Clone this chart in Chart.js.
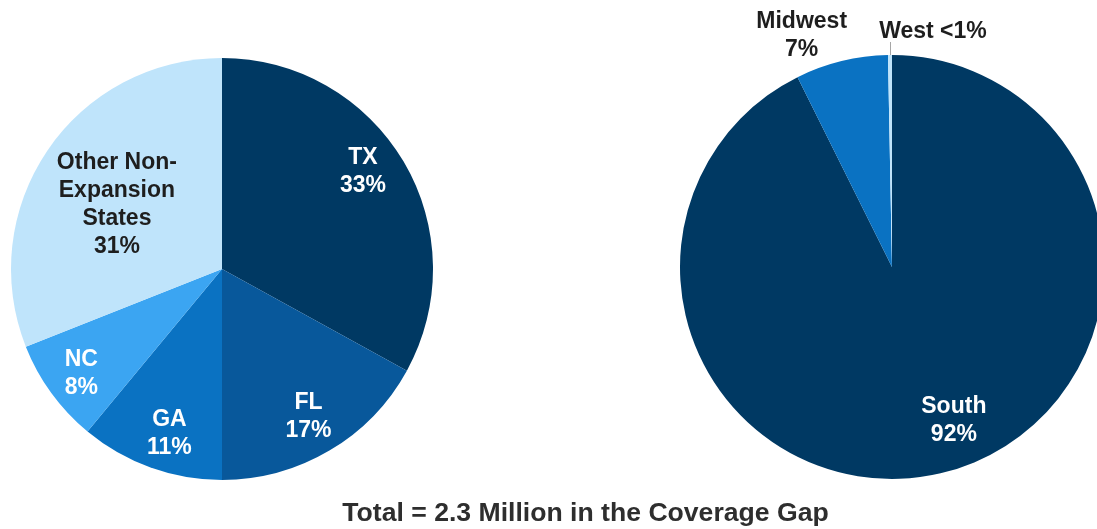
<!DOCTYPE html>
<html>
<head>
<meta charset="utf-8">
<script src="https://cdn.jsdelivr.net/npm/chart.js@4.4.1/dist/chart.umd.min.js"></script>
<style>
  html, body { margin:0; padding:0; background:#fff; width:1097px; height:529px; overflow:hidden; position:relative; }
  #leftWrap { position:absolute; left:0; top:0; width:450px; height:529px; }
  #rightWrap { position:absolute; left:660px; top:0; width:470px; height:529px; }
  #title { position:absolute; left:0; top:497px; width:1171px; text-align:center;
           font: bold 26.6px "Liberation Sans", Arial, sans-serif; line-height:30px; color:#2e2e2e; white-space:nowrap; }
</style>
</head>
<body>
<div id="leftWrap"><canvas id="left"></canvas></div>
<div id="rightWrap"><canvas id="right"></canvas></div>
<div id="title">Total = 2.3 Million in the Coverage Gap</div>
<script>
// ---- data ----
const stateLabels = ["TX", "FL", "GA", "NC", "Other Non-Expansion States"];
const stateValues = [33, 17, 11, 8, 31];
const stateLabelLines = [["TX","33%"], ["FL","17%"], ["GA","11%"], ["NC","8%"], ["Other Non-","Expansion","States","31%"]];

const regionLabels = ["South", "Midwest", "West"];
const regionValues = [92, 7, 0.3];
const regionLabelLines = [["South","92%"], ["Midwest","7%"], ["West <1%"]];

// ---- styles ----
const stateColors = ["#003963", "#08589b", "#0a72c2", "#3ba5f2", "#bfe4fb"];
const stateTextColors = ["#ffffff", "#ffffff", "#ffffff", "#ffffff", "#1e1e1e"];
const regionColors = ["#003963", "#0a72c2", "#bfe4fb"];
const regionTextColors = ["#ffffff", "#1e1e1e", "#1e1e1e"];

const FONT = 'bold 23px "Liberation Sans", Arial, sans-serif';
const LINE_H = 28;

const sliceLabelPlugin = {
  id: 'sliceLabels',
  afterDatasetsDraw(chart, args, opts) {
    const ctx = chart.ctx;
    const meta = chart.getDatasetMeta(0);
    ctx.save();
    ctx.font = FONT;
    ctx.textAlign = 'center';
    ctx.textBaseline = 'middle';
    meta.data.forEach((arc, i) => {
      const p = arc.getProps(['x','y','startAngle','endAngle','outerRadius'], true);
      const mid = (p.startAngle + p.endAngle) / 2;
      const dist = p.outerRadius * opts.factors[i];
      let x = p.x + Math.cos(mid) * dist + opts.nudges[i][0];
      let y = p.y + Math.sin(mid) * dist + opts.nudges[i][1];
      if (opts.leaders && opts.leaders[i]) {
        const ex = p.x + Math.cos(mid) * p.outerRadius;
        const ey = p.y + Math.sin(mid) * p.outerRadius;
        ctx.strokeStyle = '#a6a6a6';
        ctx.lineWidth = 1;
        ctx.beginPath();
        ctx.moveTo(Math.round(ex) + 0.5, ey);
        ctx.lineTo(Math.round(ex) + 0.5, ey - opts.leaders[i]);
        ctx.stroke();
      }
      const lines = opts.lines[i];
      ctx.fillStyle = opts.colors[i];
      const y0 = y - (lines.length - 1) * LINE_H / 2;
      lines.forEach((t, k) => ctx.fillText(t, x, y0 + k * LINE_H));
    });
    ctx.restore();
  }
};

const baseOptions = (padding, labelOpts) => ({
  responsive: true,
  maintainAspectRatio: false,
  animation: false,
  layout: { padding },
  plugins: {
    legend: { display: false },
    tooltip: { enabled: false },
    sliceLabels: labelOpts
  }
});

new Chart(document.getElementById('left'), {
  type: 'pie',
  data: {
    labels: stateLabels,
    datasets: [{ data: stateValues, backgroundColor: stateColors, borderWidth: 0 }]
  },
  options: baseOptions({ left: 11, right: 17, top: 58, bottom: 49 }, {
    lines: stateLabelLines,
    colors: stateTextColors,
    factors: [0.815, 0.805, 0.82, 0.83, 0.585],
    nudges: [[-7, -10], [0, 1], [6, 2], [1, 2], [-3, 5]]
  }),
  plugins: [sliceLabelPlugin]
});

new Chart(document.getElementById('right'), {
  type: 'pie',
  data: {
    labels: regionLabels,
    datasets: [{ data: regionValues, backgroundColor: regionColors, borderWidth: 0 }]
  },
  options: baseOptions({ left: 20, right: 26, top: 55, bottom: 50 }, {
    lines: regionLabelLines,
    colors: regionTextColors,
    factors: [0.78, 1.175, 1.0],
    nudges: [[24, -7], [-31, 11], [43, -23]],
    leaders: [0, 0, 13]
  }),
  plugins: [sliceLabelPlugin]
});
</script>
</body>
</html>
